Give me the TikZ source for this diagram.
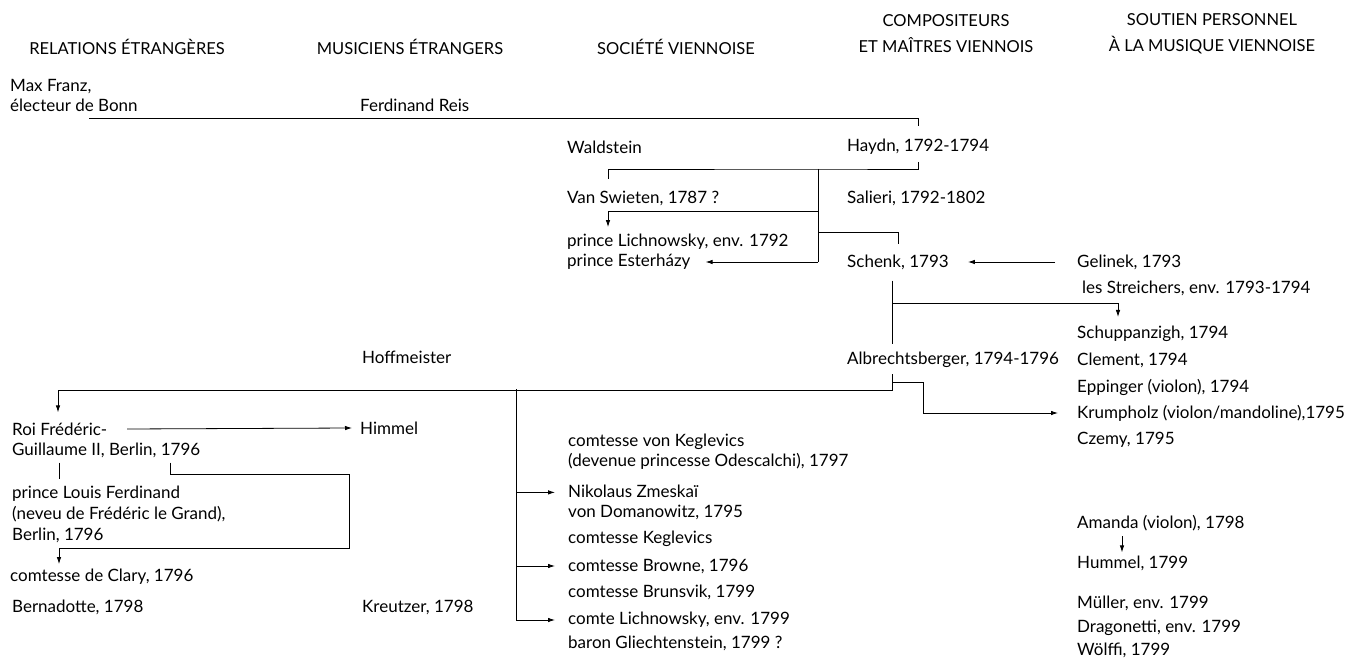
\documentclass[tikz,border=0pt]{standalone}
\usepackage{fontspec}
\setmainfont{Lato}
\usetikzlibrary{arrows.meta}

\begin{document}
\begin{tikzpicture}[x=1pt,y=-1pt,
  item/.style={anchor=west,inner sep=0pt,align=left,font=\fontsize{17}{20}\selectfont},
  head/.style={inner sep=0pt,align=center,font=\fontsize{16.5}{26}\selectfont},
  link/.style={line width=0.8pt},
  arrow/.style={link,-{Latex[length=7pt,width=4.5pt]}}]
  \fill[white] (0,0) rectangle (1362,660);
  \useasboundingbox (0,0) rectangle (1362,660);
  % column heads
  \node[head] (hrel) at (127,47) {RELATIONS ÉTRANGÈRES};
  \node[head] (hmus) at (410,47) {MUSICIENS ÉTRANGERS};
  \node[head] (hsoc) at (676,47) {SOCIÉTÉ VIENNOISE};
  \node[head] (hcomp) at (946,34) {COMPOSITEURS\\ET MAÎTRES VIENNOIS};
  \node[head] (hsout) at (1212,34) {SOUTIEN PERSONNEL\\À LA MUSIQUE VIENNOISE};
  % relations etrangeres
  \node[item] (maxfranz) at (10,95) {Max Franz,\\électeur de Bonn};
  \node[item] (roi) at (12,440) {Roi Frédéric-\\Guillaume II, Berlin, 1796};
  \node[item,font=\fontsize{17}{21}\selectfont] (louis) at (12,514) {prince Louis Ferdinand\\(neveu de Frédéric le Grand),\\Berlin, 1796};
  \node[item] (clary) at (10,577) {comtesse de Clary, 1796};
  \node[item] (bernadotte) at (12,607) {Bernadotte, 1798};
  % musiciens etrangers
  \node[item] (reis) at (360,105) {Ferdinand Reis};
  \node[item] (hoffmeister) at (362,357) {Hoffmeister};
  \node[item] (himmel) at (360,428) {Himmel};
  \node[item] (kreutzer) at (362,607) {Kreutzer, 1798};
  % societe viennoise
  \node[item] (waldstein) at (567,147) {Waldstein};
  \node[item] (vanswieten) at (567,198) {Van Swieten, 1787 ?};
  \node[item] (lichnowsky) at (567,242) {prince Lichnowsky, env. 1792};
  \node[item] (esterhazy) at (567,262) {prince Esterházy};
  \node[item] (keglevicsvon) at (568,452) {comtesse von Keglevics\\(devenue princesse Odescalchi), 1797};
  \node[item] (zmeskai) at (568,502) {Nikolaus Zmeskaï\\von Domanowitz, 1795};
  \node[item] (keglevics) at (568,539) {comtesse Keglevics};
  \node[item] (browne) at (568,566) {comtesse Browne, 1796};
  \node[item] (brunsvik) at (568,592) {comtesse Brunsvik, 1799};
  \node[item] (comte) at (568,620) {comte Lichnowsky, env. 1799};
  \node[item] (baron) at (568,643) {baron Gliechtenstein, 1799 ?};
  % compositeurs et maitres
  \node[item] (haydn) at (847,147) {Haydn, 1792-1794};
  \node[item] (salieri) at (847,198) {Salieri, 1792-1802};
  \node[item] (schenk) at (847,262) {Schenk, 1793};
  \node[item] (albrechts) at (847,360) {Albrechtsberger, 1794-1796};
  % soutien personnel
  \node[item] (gelinek) at (1077,262) {Gelinek, 1793};
  \node[item] (streichers) at (1082,288) {les Streichers, env. 1793-1794};
  \node[item] (schuppanzigh) at (1077,334) {Schuppanzigh, 1794};
  \node[item] (clement) at (1077,360) {Clement, 1794};
  \node[item] (eppinger) at (1077,387) {Eppinger (violon), 1794};
  \node[item] (krumpholz) at (1077,413) {Krumpholz (violon/mandoline),1795};
  \node[item] (czemy) at (1077,440) {Czemy, 1795};
  \node[item] (amanda) at (1077,523) {Amanda (violon), 1798};
  \node[item] (hummel) at (1077,563) {Hummel, 1799};
  \node[item] (muller) at (1077,603) {Müller, env. 1799};
  \node[item] (dragonetti) at (1077,628) {Dragonetti, env. 1799};
  \node[item] (wolffi) at (1077,650) {Wölffi, 1799};

  % Bonn -- Haydn -- societe viennoise
  \coordinate (bonn) at (89,118);
  \draw[link] (bonn) -| ([yshift=13pt]haydn.north);
  \coordinate (hub) at (818,169);
  \draw[link] ([yshift=-7pt]haydn.south) |- (hub) -| ([xshift=41pt,yshift=11pt]vanswieten.north west);
  \draw[link] (hub) -- (818,262) coordinate (hubend);
  \draw[arrow] (818,211) -| ([xshift=41pt,yshift=7pt]lichnowsky.north west);
  \draw[link] (818,232) -| ([yshift=10pt]schenk.north);
  \draw[arrow] (hubend) -- ([xshift=15pt]esterhazy.east);
  \draw[arrow] ([xshift=-22pt]gelinek.west) -- ([xshift=19pt]schenk.east);
  % Schenk -- Albrechtsberger
  \draw[link] ([xshift=45pt,yshift=-11pt]schenk.south west) -- ([xshift=45pt,yshift=8pt]albrechts.north west);
  \coordinate (schbranch) at (892,303);
  \draw[arrow] (schbranch) -| ([xshift=41pt,yshift=9pt]schuppanzigh.north west);
  % Albrechtsberger -- everyone
  \draw[arrow] ([xshift=45pt,yshift=-6pt]albrechts.south west) -- ++(0,16) -| ([xshift=46pt,yshift=10pt]roi.north west);
  \coordinate (albbranch) at (892,382);
  \draw[arrow] (albbranch) -- (923,382) |- ([xshift=-19pt]krumpholz.west);
  \coordinate (socbar) at (516,389);
  \draw[arrow] (socbar) |- ([xshift=-13pt]comte.west);
  \coordinate (zm) at ([yshift=-8pt]zmeskai.north west);
  \draw[arrow] (socbar |- zm) -- ([xshift=-13pt]zm);
  \draw[arrow] (socbar |- browne.west) -- ([xshift=-13pt]browne.west);
  % Berlin
  \draw[arrow] ([xshift=115pt,yshift=11pt]roi.west) -- ([xshift=-8pt]himmel.west);
  \draw[link] ([xshift=47pt,yshift=-5pt]roi.south west) -- ([xshift=47pt,yshift=6pt]louis.north west);
  \draw[arrow] ([xshift=158pt,yshift=-5pt]roi.south west) |- (349,474) |- (59,548) -- ([xshift=49pt,yshift=5pt]clary.north west);
  % Amanda -- Hummel
  \draw[arrow] ([xshift=45pt,yshift=-5pt]amanda.south west) -- ([xshift=45pt,yshift=3pt]hummel.north west);
\end{tikzpicture}
\end{document}
